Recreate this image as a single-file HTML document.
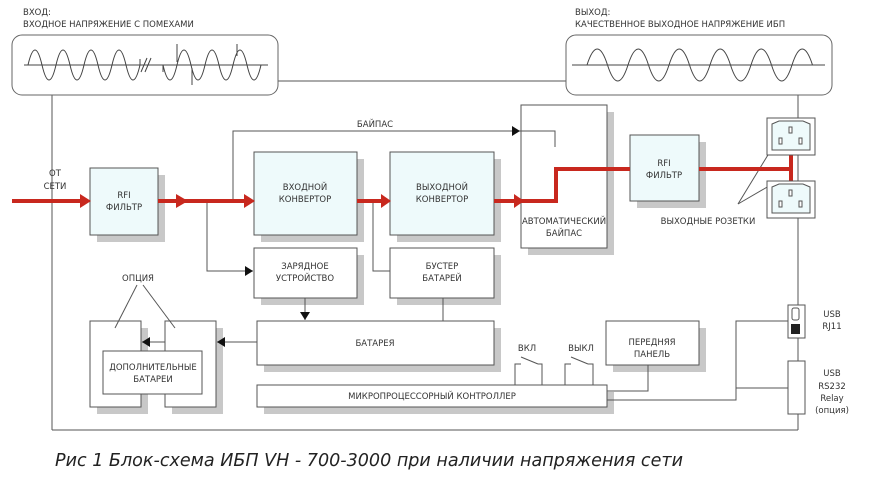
<!DOCTYPE html>
<html><head><meta charset="utf-8"><style>
html,body{margin:0;padding:0;background:#fff;}
svg{display:block;}
text{font-family:"DejaVu Sans","Liberation Sans",sans-serif;font-size:8.5px;fill:#333;}
.c{text-anchor:middle;}
</style></head><body>
<svg width="883" height="484" viewBox="0 0 883 484" xmlns="http://www.w3.org/2000/svg">
<defs>
<marker id="ab" markerWidth="8" markerHeight="10" refX="8" refY="5" orient="auto" markerUnits="userSpaceOnUse"><path d="M0,0 L8,5 L0,10 Z" fill="#111"/></marker>
</defs>
<g fill="none" stroke="#555" stroke-width="1">
<line x1="52" y1="95" x2="52" y2="430"/>
<line x1="52" y1="430" x2="798" y2="430"/>
<line x1="278" y1="81" x2="566" y2="81"/>
<line x1="798" y1="95" x2="798" y2="305"/>
<line x1="798" y1="338" x2="798" y2="361"/>
<line x1="798" y1="414" x2="798" y2="430"/>
</g>
<rect x="12" y="35" width="266" height="60" rx="10" fill="#fff" stroke="#666"/>
<rect x="566" y="35" width="266" height="60" rx="10" fill="#fff" stroke="#666"/>
<g fill="none" stroke="#444" stroke-width="1">
<line x1="24" y1="65" x2="268" y2="65"/>
<path d="M28,65 q7,-30 14,0 t14,0 t14,0 t14,0 t14,0 t14,0 t14,0 t14,0 l0,-6"/>
<line x1="141" y1="72" x2="147" y2="58"/><line x1="145" y1="72" x2="151" y2="58"/>
<path d="M163,72 l0,-7 q7,30 14,0 t14,0 t14,0 t14,0 t14,0 t14,0 t14,0"/>
<line x1="177" y1="44" x2="177" y2="62"/><line x1="192" y1="68" x2="192" y2="85"/><line x1="237" y1="44" x2="237" y2="56"/>
<line x1="572" y1="65" x2="825" y2="65"/>
<path d="M587,65 q10.25,-32 20.5,0 t20.5,0 t20.5,0 t20.5,0 t20.5,0 t20.5,0 t20.5,0 t20.5,0 t20.5,0 t20.5,0 t20.5,0"/>
</g>
<text x="23" y="15">ВХОД:</text>
<text x="23" y="27">ВХОДНОЕ НАПРЯЖЕНИЕ С ПОМЕХАМИ</text>
<text x="575" y="15">ВЫХОД:</text>
<text x="575" y="27">КАЧЕСТВЕННОЕ ВЫХОДНОЕ НАПРЯЖЕНИЕ ИБП</text>
<g fill="#c8c8c8">
<rect x="97" y="175" width="68" height="67"/>
<rect x="261" y="159" width="103" height="83"/>
<rect x="397" y="159" width="104" height="83"/>
<rect x="528" y="112" width="86" height="143"/>
<rect x="637" y="142" width="69" height="66"/>
<rect x="261" y="255" width="103" height="50"/>
<rect x="397" y="255" width="104" height="50"/>
<rect x="264" y="328" width="237" height="44"/>
<rect x="264" y="392" width="350" height="22"/>
<rect x="613" y="328" width="93" height="44"/>
<rect x="97" y="328" width="51" height="86"/>
<rect x="172" y="328" width="51" height="86"/>
</g>
<g stroke="#555" stroke-width="1">
<rect x="90" y="168" width="68" height="67" fill="#eefafb"/>
<rect x="254" y="152" width="103" height="83" fill="#eefafb"/>
<rect x="390" y="152" width="104" height="83" fill="#eefafb"/>
<rect x="521" y="105" width="86" height="143" fill="#fff"/>
<rect x="630" y="135" width="69" height="66" fill="#eefafb"/>
<rect x="254" y="248" width="103" height="50" fill="#fff"/>
<rect x="390" y="248" width="104" height="50" fill="#fff"/>
<rect x="257" y="321" width="237" height="44" fill="#fff"/>
<rect x="257" y="385" width="350" height="22" fill="#fff"/>
<rect x="606" y="321" width="93" height="44" fill="#fff"/>
<rect x="90" y="321" width="51" height="86" fill="#fff"/>
<rect x="165" y="321" width="51" height="86" fill="#fff"/>
<rect x="103" y="351" width="99" height="43" fill="#fff"/>
<rect x="788" y="305" width="17" height="33" fill="#fff"/>
<rect x="788" y="361" width="17" height="53" fill="#fff"/>
</g>
<g fill="none" stroke="#555" stroke-width="1">
<polyline points="233,201 233,131 520,131" marker-end="url(#ab)"/>
<polyline points="520,131 555,131 555,147"/>
<polyline points="207,201 207,271 253,271" marker-end="url(#ab)"/>
<polyline points="373,201 373,271 390,271"/>
<line x1="305" y1="298" x2="305" y2="320" marker-end="url(#ab)"/>
<line x1="443" y1="298" x2="443" y2="321"/>
<line x1="257" y1="342" x2="217" y2="342" marker-end="url(#ab)"/>
<line x1="165" y1="342" x2="142" y2="342" marker-end="url(#ab)"/>
<line x1="137" y1="285" x2="115" y2="328"/>
<line x1="143" y1="285" x2="175" y2="328"/>
<polyline points="648,365 648,391 607,391"/>
<polyline points="607,400 736,400 736,321 788,321"/>
<line x1="736" y1="388" x2="788" y2="388"/>
<polyline points="515,385 515,364 521,364"/><line x1="521" y1="357" x2="538" y2="364"/><polyline points="538,364 542,364 542,385"/>
<polyline points="565,385 565,364 571,364"/><line x1="571" y1="357" x2="588" y2="364"/><polyline points="588,364 593,364 593,385"/>
<line x1="738" y1="204" x2="771" y2="150"/>
<line x1="738" y1="204" x2="769" y2="186"/>
</g>
<g fill="none" stroke="#c8281e" stroke-width="4">
<line x1="12" y1="201" x2="84" y2="201"/>
<line x1="158" y1="201" x2="248" y2="201"/>
<line x1="357" y1="201" x2="384" y2="201"/>
<polyline points="494,201 556,201 556,169 630,169"/>
<line x1="699" y1="169" x2="791" y2="169"/>
<line x1="791" y1="155" x2="791" y2="181"/>
</g>
<g fill="#c8281e">
<path d="M80,194 L91,201 L80,208Z"/>
<path d="M176,194 L188,201 L176,208Z"/>
<path d="M244,194 L255,201 L244,208Z"/>
<path d="M381,194 L391,201 L381,208Z"/>
<path d="M514,194 L524,201 L514,208Z"/>
</g>
<g stroke="#555" fill="#fff">
<rect x="767" y="118" width="48" height="37"/>
<rect x="767" y="181" width="48" height="37"/>
<path d="M772,124 L779,121 L803,121 L810,124 L810,150 L772,150Z" fill="#eefafb"/>
<path d="M772,187 L779,184 L803,184 L810,187 L810,213 L772,213Z" fill="#eefafb"/>
<rect x="789" y="127" width="3" height="6"/><rect x="779" y="138" width="3" height="6"/><rect x="799" y="138" width="3" height="6"/>
<rect x="789" y="190" width="3" height="6"/><rect x="779" y="201" width="3" height="6"/><rect x="799" y="201" width="3" height="6"/>
<rect x="792" y="308" width="7" height="12" rx="2"/>
</g>
<rect x="791" y="324" width="9" height="10" fill="#222"/>
<text class="c" x="124" y="198">RFI</text><text class="c" x="124" y="210">ФИЛЬТР</text>
<text class="c" x="305" y="190">ВХОДНОЙ</text><text class="c" x="305" y="202">КОНВЕРТОР</text>
<text class="c" x="442" y="190">ВЫХОДНОЙ</text><text class="c" x="442" y="202">КОНВЕРТОР</text>
<text class="c" x="564" y="224">АВТОМАТИЧЕСКИЙ</text><text class="c" x="564" y="236">БАЙПАС</text>
<text class="c" x="664" y="166">RFI</text><text class="c" x="664" y="178">ФИЛЬТР</text>
<text class="c" x="375" y="127">БАЙПАС</text>
<text class="c" x="55" y="176">ОТ</text><text class="c" x="55" y="189">СЕТИ</text>
<text class="c" x="708" y="224">ВЫХОДНЫЕ РОЗЕТКИ</text>
<text class="c" x="305" y="269">ЗАРЯДНОЕ</text><text class="c" x="305" y="281">УСТРОЙСТВО</text>
<text class="c" x="442" y="269">БУСТЕР</text><text class="c" x="442" y="281">БАТАРЕЙ</text>
<text class="c" x="375" y="346">БАТАРЕЯ</text>
<text class="c" x="432" y="399">МИКРОПРОЦЕССОРНЫЙ КОНТРОЛЛЕР</text>
<text class="c" x="652" y="345">ПЕРЕДНЯЯ</text><text class="c" x="652" y="357">ПАНЕЛЬ</text>
<text class="c" x="527" y="351">ВКЛ</text><text class="c" x="581" y="351">ВЫКЛ</text>
<text class="c" x="138" y="281">ОПЦИЯ</text>
<text class="c" x="153" y="370">ДОПОЛНИТЕЛЬНЫЕ</text><text class="c" x="153" y="382">БАТАРЕИ</text>
<text class="c" x="832" y="317">USB</text><text class="c" x="832" y="329">RJ11</text>
<text class="c" x="832" y="376">USB</text><text class="c" x="832" y="389">RS232</text><text class="c" x="832" y="401">Relay</text><text class="c" x="832" y="413">(опция)</text>
<text x="55" y="466" textLength="628" lengthAdjust="spacingAndGlyphs" style="font-size:17.5px;font-style:italic;fill:#222;font-family:'DejaVu Sans','Liberation Sans',sans-serif">Рис 1   Блок-схема ИБП  VH - 700-3000 при наличии напряжения сети</text>
</svg>
</body></html>
